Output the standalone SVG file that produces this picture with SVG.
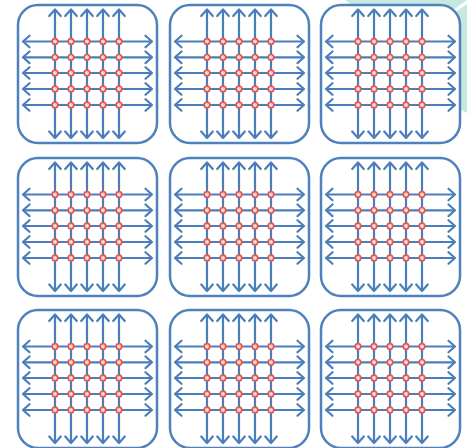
<svg xmlns="http://www.w3.org/2000/svg" xmlns:xlink="http://www.w3.org/1999/xlink" width="467" height="448" viewBox="0 0 467 448">
<style>
.box{fill:#ffffff;stroke:#4f81bd;stroke-width:2.5}
.ln{stroke:#4a7ebb;stroke-width:2.2;fill:none;marker-start:url(#ah);marker-end:url(#ah)}
.nd{fill:#fbd9d4;stroke:#df5a55;stroke-width:1.7}
</style>
<defs>
<marker id="ah" markerUnits="userSpaceOnUse" markerWidth="16" markerHeight="16" refX="0" refY="0" viewBox="-8 -8 16 16" orient="auto-start-reverse">
<path d="M-6.5,-5.8 L0,0 L-6.5,5.8" fill="none" stroke="#4a7ebb" stroke-width="2.2" stroke-linecap="round" stroke-linejoin="round"/>
</marker>
<g id="cell">
<rect class="box" x="0" y="0" width="139" height="138" rx="20" ry="20"/>
<g class="conn">
<line class="ln" x1="37" y1="4.5" x2="37" y2="133"/>
<line class="ln" x1="53" y1="4.5" x2="53" y2="133"/>
<line class="ln" x1="69" y1="4.5" x2="69" y2="133"/>
<line class="ln" x1="85" y1="4.5" x2="85" y2="133"/>
<line class="ln" x1="101" y1="4.5" x2="101" y2="133"/>
<line class="ln" x1="5" y1="36.5" x2="134" y2="36.5"/>
<line class="ln" x1="5" y1="52.3" x2="134" y2="52.3"/>
<line class="ln" x1="5" y1="68" x2="134" y2="68"/>
<line class="ln" x1="5" y1="84" x2="134" y2="84"/>
<line class="ln" x1="5" y1="100" x2="134" y2="100"/>
</g>
<g>
<circle class="nd" cx="37" cy="36.5" r="2.8"/><circle class="nd" cx="53" cy="36.5" r="2.8"/><circle class="nd" cx="69" cy="36.5" r="2.8"/><circle class="nd" cx="85" cy="36.5" r="2.8"/><circle class="nd" cx="101" cy="36.5" r="2.8"/>
<circle class="nd" cx="37" cy="52.3" r="2.8"/><circle class="nd" cx="53" cy="52.3" r="2.8"/><circle class="nd" cx="69" cy="52.3" r="2.8"/><circle class="nd" cx="85" cy="52.3" r="2.8"/><circle class="nd" cx="101" cy="52.3" r="2.8"/>
<circle class="nd" cx="37" cy="68" r="2.8"/><circle class="nd" cx="53" cy="68" r="2.8"/><circle class="nd" cx="69" cy="68" r="2.8"/><circle class="nd" cx="85" cy="68" r="2.8"/><circle class="nd" cx="101" cy="68" r="2.8"/>
<circle class="nd" cx="37" cy="84" r="2.8"/><circle class="nd" cx="53" cy="84" r="2.8"/><circle class="nd" cx="69" cy="84" r="2.8"/><circle class="nd" cx="85" cy="84" r="2.8"/><circle class="nd" cx="101" cy="84" r="2.8"/>
<circle class="nd" cx="37" cy="100" r="2.8"/><circle class="nd" cx="53" cy="100" r="2.8"/><circle class="nd" cx="69" cy="100" r="2.8"/><circle class="nd" cx="85" cy="100" r="2.8"/><circle class="nd" cx="101" cy="100" r="2.8"/>
</g>
</g>
</defs>
<rect x="0" y="0" width="467" height="448" fill="#ffffff"/>
<polygon points="345,0 467,0 467,113 440,100 372,20" fill="#c6e9df"/>
<line x1="450" y1="14" x2="470" y2="0" stroke="#ffffff" stroke-width="3"/>
<g id="box-1-1"><use xlink:href="#cell" href="#cell" x="18" y="5"/></g>
<g id="box-1-2"><use xlink:href="#cell" href="#cell" x="170" y="5"/></g>
<g id="box-1-3"><use xlink:href="#cell" href="#cell" x="321" y="5"/></g>
<g id="box-2-1"><use xlink:href="#cell" href="#cell" x="18" y="158"/></g>
<g id="box-2-2"><use xlink:href="#cell" href="#cell" x="170" y="158"/></g>
<g id="box-2-3"><use xlink:href="#cell" href="#cell" x="321" y="158"/></g>
<g id="box-3-1"><use xlink:href="#cell" href="#cell" x="18" y="310"/></g>
<g id="box-3-2"><use xlink:href="#cell" href="#cell" x="170" y="310"/></g>
<g id="box-3-3"><use xlink:href="#cell" href="#cell" x="321" y="310"/></g>
</svg>
